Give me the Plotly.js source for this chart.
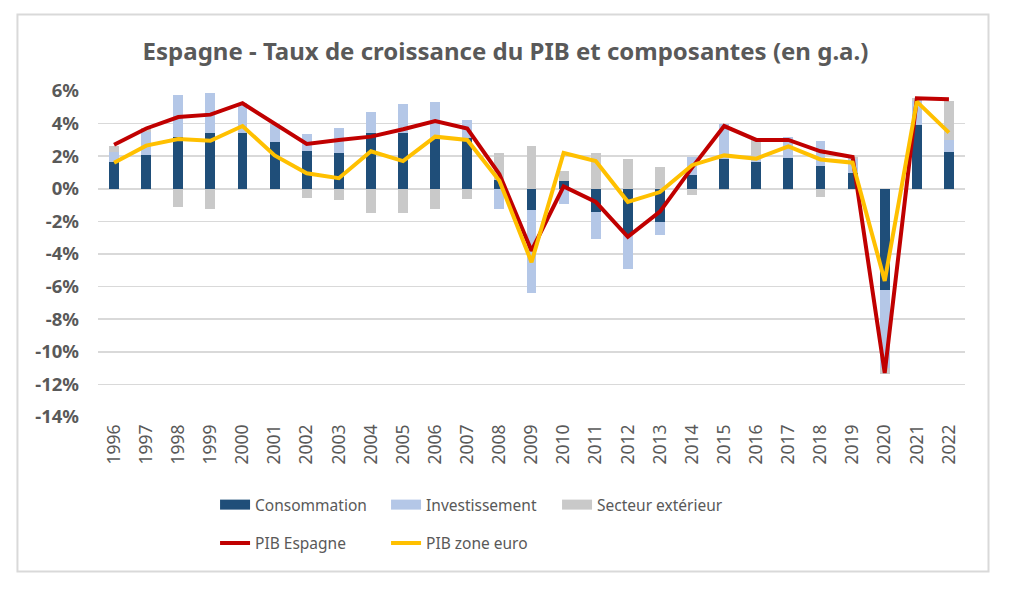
<!DOCTYPE html>
<html>
<head>
<meta charset="utf-8">
<script src="https://cdn.plot.ly/plotly-3.0.1.min.js"></script>
<style>
html,body{margin:0;padding:0;background:#fff;}
#chart{width:1012px;height:590px;}
</style>
</head>
<body>
<div id="chart"></div>
<script>
const years = ["1996","1997","1998","1999","2000","2001","2002","2003","2004","2005","2006","2007","2008","2009","2010","2011","2012","2013","2014","2015","2016","2017","2018","2019","2020","2021","2022"];
const consommation   = [1.65,2.1,3.2,3.4,3.4,2.9,2.35,2.2,3.4,3.4,3.1,3.1,0.55,-1.3,0.5,-1.4,-2.75,-2.05,0.85,1.85,1.65,1.9,1.4,0.95,-6.2,3.9,2.25];
const investissement = [0.6,1.4,2.55,2.5,1.85,1.0,1.0,1.55,1.3,1.8,2.25,1.1,-1.25,-5.1,-0.95,-1.65,-2.2,-0.8,1.1,2.15,0.1,1.25,1.55,0.85,-4.8,1.5,0.75];
const secteurExterieur = [0.4,0.2,-1.1,-1.25,0,0.1,-0.55,-0.7,-1.5,-1.5,-1.25,-0.65,1.65,2.65,0.6,2.2,1.85,1.35,-0.4,-0.1,1.25,-0.1,-0.5,0.15,-0.35,0.2,2.4];
const pibEspagne = [2.7,3.7,4.4,4.55,5.25,4.0,2.75,3.0,3.2,3.65,4.15,3.7,0.9,-3.8,0.15,-0.8,-2.95,-1.4,1.3,3.85,3.0,3.0,2.3,1.95,-11.3,5.55,5.5];
const pibZoneEuro = [1.6,2.65,3.05,2.95,3.85,2.05,0.95,0.65,2.3,1.7,3.2,3.0,0.5,-4.5,2.2,1.7,-0.8,-0.2,1.45,2.05,1.85,2.6,1.8,1.6,-5.65,5.35,3.45];
const yTicks = [-14,-12,-10,-8,-6,-4,-2,0,2,4,6];

const FONT = "Noto Sans, Open Sans, sans-serif";
const GREY = "#595959";
const BW = 0.31;
const C_CONS = "#1F4E79", C_INV = "#B4C7E7", C_EXT = "#C9C9C9";

const traces = [
  {type:"bar", name:"Consommation", x:years, y:consommation, width:BW, marker:{color:C_CONS}, showlegend:false},
  {type:"bar", name:"Investissement", x:years, y:investissement, width:BW, marker:{color:C_INV}, showlegend:false},
  {type:"bar", name:"Secteur extérieur", x:years, y:secteurExterieur, width:BW, marker:{color:C_EXT}, showlegend:false},
  // legend-only entries (wide swatches like the original)
  {type:"scatter", mode:"lines", name:"Consommation", x:[null], y:[null], line:{color:C_CONS, width:12}, legend:"legend"},
  {type:"scatter", mode:"lines", name:"Investissement", x:[null], y:[null], line:{color:C_INV, width:12}, legend:"legend"},
  {type:"scatter", mode:"lines", name:"Secteur extérieur", x:[null], y:[null], line:{color:C_EXT, width:12}, legend:"legend"},
  {type:"scatter", mode:"lines", name:"PIB Espagne", x:years, y:pibEspagne, line:{color:"#C00000", width:4}, legend:"legend2"},
  {type:"scatter", mode:"lines", name:"PIB zone euro", x:years, y:pibZoneEuro, line:{color:"#FFC000", width:4}, legend:"legend2"}
];

const legendBase = {orientation:"h", xref:"container", yref:"container", x:0.2125, xanchor:"left", yanchor:"middle",
          font:{family:FONT, size:15.5, color:GREY}, entrywidth:126, traceorder:"normal", bgcolor:"rgba(0,0,0,0)"};

const layout = {
  width:1012, height:590,
  paper_bgcolor:"#fff", plot_bgcolor:"#fff",
  margin:{l:98, r:47, t:91, b:173},
  barmode:"relative",
  bargap:0,
  title:{text:"Espagne - Taux de croissance du PIB et composantes (en g.a.)",
         font:{family:FONT, size:24, color:GREY, weight:"bold"},
         x:0.4995, xref:"container", y:0.912, yref:"container", xanchor:"center", yanchor:"middle"},
  xaxis:{type:"category", tickangle:-90, showgrid:false, zeroline:false, showline:false, ticks:"",
         tickfont:{family:FONT, size:17.5, color:GREY}, ticklabelstandoff:3},
  yaxis:{range:[-14,6], tickvals:yTicks, ticktext:yTicks.map(v=>v+"%"), showgrid:true, gridcolor:"#D9D9D9", gridwidth:1.5,
         zeroline:false, showline:false, ticks:"",
         tickfont:{family:FONT, size:18.5, color:GREY, weight:"bold"}, ticklabelstandoff:18},
  showlegend:true,
  legend:Object.assign({}, legendBase, {y:0.144}),
  legend2:Object.assign({}, legendBase, {y:0.079}),
  shapes:[{type:"rect", xref:"paper", yref:"paper", x0:-0.0929, x1:1.0271, y0:-0.4739, y1:1.2347,
           line:{color:"#D9D9D9", width:2}, fillcolor:"rgba(0,0,0,0)", layer:"above"}]
};

Plotly.newPlot("chart", traces, layout, {displayModeBar:false, staticPlot:true});
</script>
</body>
</html>
